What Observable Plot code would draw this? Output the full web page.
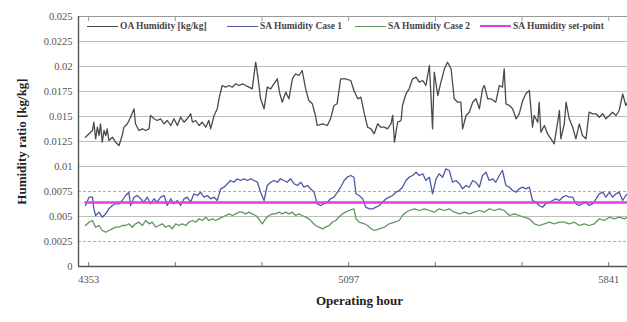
<!DOCTYPE html>
<html>
<head>
<meta charset="utf-8">
<script src="https://cdn.jsdelivr.net/npm/d3@7"></script>
<script src="https://cdn.jsdelivr.net/npm/@observablehq/plot@0.6"></script>
<style>
  html, body { margin: 0; padding: 0; background: #fff; overflow: hidden; width: 627px; height: 322px; }
  #wrap { position: relative; width: 645px; height: 322px; }
  #legend { position: absolute; top: 21px; left: 0; height: 12px; width: 645px;
    font-family: "Liberation Serif", serif; font-weight: bold; font-size: 9.5px; color: #444; }
  #legend .item { position: absolute; top: 0; display: flex; align-items: center; white-space: nowrap; }
  #legend .sw { display: inline-block; width: 31px; height: 0; margin-right: 2px; }
</style>
</head>
<body>
<div id="wrap"><div id="legend"></div></div>
<script>
// ---- data (hour, humidity ratio kg/kg) ----
const seriesNames = ["OA Humidity [kg/kg]", "SA Humidity Case 1", "SA Humidity Case 2", "SA Humidity set-point"];
const seriesColors = ["#4a4a4a", "#4d5aa6", "#5e9660", "#e23ee0"];

const oaHumidity = [
[4344,0.01293],[4354,0.01327],[4364,0.0136],[4368,0.01443],[4373,0.01277],[4378,0.01393],[4383,0.0131],[4387,0.01427],[4392,0.01243],[4397,0.0136],
[4402,0.0131],[4406,0.01377],[4411,0.0126],[4421,0.01293],[4430,0.01243],[4440,0.0121],[4449,0.0131],[4454,0.01393],[4464,0.01427],[4473,0.01493],
[4483,0.01577],[4487,0.01427],[4497,0.0136],[4507,0.01377],[4516,0.0136],[4526,0.01377],[4530,0.0151],[4540,0.01477],[4549,0.0146],[4559,0.01477],
[4569,0.01427],[4578,0.0146],[4588,0.0141],[4597,0.01477],[4607,0.0141],[4616,0.01493],[4626,0.01443],[4635,0.01477],[4645,0.01527],[4650,0.01443],
[4659,0.0146],[4669,0.0141],[4678,0.01443],[4688,0.01393],[4697,0.0146],[4702,0.01377],[4712,0.0151],[4721,0.01577],[4726,0.01677],[4735,0.0181],
[4745,0.01793],[4755,0.0181],[4764,0.01793],[4774,0.01827],[4783,0.0181],[4793,0.01827],[4802,0.0181],[4812,0.01793],[4821,0.01777],[4831,0.02043],
[4838,0.01877],[4845,0.01677],[4855,0.01577],[4864,0.01793],[4874,0.01777],[4883,0.01827],[4893,0.01877],[4899,0.01743],[4907,0.01643],[4917,0.01743],
[4926,0.01677],[4936,0.01877],[4945,0.01927],[4955,0.0191],[4964,0.0196],[4974,0.01777],[4983,0.0166],[4993,0.01627],[5002,0.0151],[5007,0.0141],
[5022,0.01427],[5036,0.0141],[5045,0.01477],[5055,0.0161],[5064,0.01627],[5074,0.01877],[5088,0.01877],[5103,0.0186],[5112,0.0176],
[5123,0.01677],[5132,0.01693],[5142,0.01527],[5151,0.01393],[5161,0.01377],[5170,0.01327],[5180,0.01427],[5189,0.01393],[5199,0.01393],[5208,0.01377],
[5218,0.01427],[5223,0.0151],[5228,0.01243],[5237,0.01443],[5247,0.0146],[5251,0.0161],[5261,0.01727],[5270,0.01777],[5280,0.01877],[5290,0.01893],
[5299,0.01843],[5309,0.0186],[5318,0.0181],[5328,0.0201],[5332,0.01743],[5337,0.01377],[5342,0.01943],[5352,0.0171],[5361,0.01843],[5371,0.01977],
[5380,0.02043],[5390,0.01977],[5399,0.01677],[5409,0.01643],[5418,0.01643],[5423,0.01377],[5433,0.0151],[5442,0.01543],[5452,0.01643],[5461,0.01677],
[5471,0.01577],[5480,0.01777],[5485,0.0181],[5495,0.01677],[5504,0.01677],[5518,0.01643],[5528,0.0181],[5537,0.01793],[5542,0.01977],[5547,0.01627],
[5557,0.0161],[5566,0.01577],[5576,0.01477],[5585,0.01527],[5595,0.0166],[5604,0.01727],[5614,0.0176],[5623,0.01393],[5628,0.0151],[5638,0.01443],
[5642,0.01643],[5647,0.01343],[5657,0.0141],[5666,0.01327],[5676,0.01277],[5685,0.01227],[5695,0.01443],[5700,0.0156],[5704,0.01277],[5714,0.01427],
[5719,0.01643],[5728,0.01477],[5738,0.01393],[5747,0.01277],[5757,0.01427],[5766,0.0131],[5776,0.01277],[5785,0.01543],[5795,0.01527],[5805,0.01527],
[5814,0.01493],[5824,0.01527],[5833,0.01477],[5843,0.0151],[5852,0.01543],[5862,0.0151],[5871,0.0156],[5881,0.01727],[5890,0.0161],[5895,0.01643]
];

const saCase1 = [
[4344,0.0061],[4354,0.00693],[4364,0.00693],[4368,0.00577],[4373,0.0051],[4383,0.00543],[4392,0.00493],[4402,0.00527],[4411,0.00577],[4421,0.0061],
[4430,0.00627],[4440,0.00627],[4449,0.0066],[4459,0.0071],[4468,0.00743],[4473,0.0061],[4483,0.00693],[4492,0.0071],[4502,0.00677],[4511,0.00643],
[4521,0.00693],[4530,0.00627],[4540,0.00677],[4549,0.00643],[4559,0.00693],[4569,0.0071],[4578,0.0061],[4588,0.00677],[4597,0.00627],[4607,0.0066],
[4616,0.0061],[4626,0.00677],[4635,0.00693],[4645,0.00643],[4654,0.00727],[4664,0.0071],[4673,0.00743],[4683,0.00693],[4693,0.0071],[4702,0.00677],
[4712,0.00693],[4721,0.0066],[4731,0.00777],[4740,0.00793],[4750,0.00827],[4759,0.0086],[4769,0.00843],[4778,0.00877],[4788,0.0086],[4797,0.00877],
[4807,0.0086],[4817,0.00877],[4826,0.0086],[4836,0.00843],[4845,0.00743],[4855,0.0066],[4864,0.0081],[4874,0.00843],[4883,0.0086],[4893,0.00843],
[4902,0.00877],[4912,0.0086],[4921,0.00843],[4931,0.00877],[4941,0.00827],[4950,0.0081],[4960,0.00843],[4969,0.00793],[4979,0.0081],[4988,0.00777],
[4998,0.00743],[5007,0.00627],[5017,0.0061],[5026,0.00627],[5036,0.00643],[5045,0.00677],[5055,0.00693],[5065,0.00743],[5074,0.00793],[5084,0.0086],
[5093,0.00893],[5103,0.0091],[5112,0.00893],
[5118,0.00727],[5127,0.0071],[5137,0.00677],[5146,0.00593],[5156,0.00577],[5166,0.00577],[5175,0.00593],[5185,0.0061],[5194,0.00643],[5204,0.00677],
[5213,0.00693],[5223,0.0071],[5232,0.00743],[5242,0.0076],[5251,0.00793],[5261,0.0086],[5270,0.00893],[5280,0.0091],[5290,0.00943],[5299,0.0091],
[5309,0.00927],[5318,0.0086],[5328,0.00893],[5337,0.00727],[5347,0.00877],[5356,0.00927],[5366,0.00893],[5375,0.00977],[5385,0.0096],[5394,0.00843],
[5404,0.0086],[5414,0.00827],[5423,0.00777],[5433,0.0081],[5442,0.00793],[5452,0.0086],[5461,0.00843],[5471,0.00793],[5480,0.0091],[5490,0.00943],
[5499,0.0086],[5509,0.00877],[5518,0.00843],[5528,0.0091],[5537,0.0096],[5547,0.0081],[5557,0.00793],[5566,0.0076],[5576,0.00743],[5585,0.00777],
[5595,0.00793],[5604,0.00777],[5614,0.00793],[5623,0.0066],[5633,0.00643],[5642,0.0061],[5652,0.00593],[5661,0.00627],[5671,0.00643],[5681,0.0066],
[5690,0.00677],[5700,0.0066],[5709,0.00693],[5719,0.0071],[5728,0.00693],[5738,0.00693],[5747,0.00627],[5757,0.0061],[5766,0.00627],[5776,0.00643],
[5785,0.0061],[5795,0.00627],[5805,0.00677],[5814,0.00727],[5824,0.00743],[5833,0.00693],[5843,0.00743],[5852,0.00693],[5862,0.00727],[5871,0.00743],
[5881,0.0066],[5890,0.0071],[5895,0.00727]
];

const saCase2 = [
[4344,0.0041],[4354,0.00443],[4364,0.0046],[4373,0.00393],[4383,0.0041],[4392,0.0036],[4402,0.00343],[4411,0.0036],[4421,0.00377],[4430,0.00393],
[4440,0.00393],[4449,0.0041],[4459,0.0041],[4468,0.00427],[4478,0.00393],[4487,0.00427],[4497,0.00443],[4507,0.0041],[4516,0.0046],[4526,0.00427],
[4535,0.00443],[4545,0.00393],[4554,0.0041],[4564,0.00427],[4573,0.00393],[4583,0.0041],[4592,0.00377],[4602,0.00427],[4611,0.0041],[4621,0.00427],
[4631,0.0041],[4640,0.00443],[4650,0.0046],[4659,0.00443],[4669,0.00477],[4678,0.0046],[4688,0.00493],[4697,0.0046],[4707,0.00477],[4716,0.0046],
[4726,0.00477],[4735,0.00493],[4745,0.0051],[4755,0.00527],[4764,0.0051],[4774,0.00527],[4783,0.00543],[4793,0.00543],[4802,0.00527],[4812,0.00543],
[4821,0.00527],[4831,0.0051],[4840,0.00477],[4850,0.00427],[4859,0.00477],[4869,0.0051],[4879,0.00527],[4888,0.00527],[4898,0.00543],[4907,0.00527],
[4917,0.00543],[4926,0.00527],[4936,0.00543],[4945,0.0051],[4955,0.00527],[4964,0.0051],[4974,0.00493],[4983,0.00477],[4993,0.00443],[5002,0.0041],
[5012,0.00393],[5022,0.00377],[5031,0.00393],[5041,0.0041],[5050,0.00443],[5060,0.0046],[5069,0.00493],[5079,0.00527],[5088,0.00543],[5098,0.0056],
[5112,0.00577],
[5118,0.00477],[5127,0.00443],[5142,0.00427],[5151,0.0041],[5161,0.00377],[5170,0.0036],[5185,0.00377],[5199,0.00393],[5213,0.00427],[5228,0.00443],
[5242,0.0046],[5251,0.0051],[5261,0.00543],[5270,0.0056],[5285,0.00577],[5299,0.0056],[5313,0.00577],[5328,0.0056],[5342,0.00543],[5356,0.00577],
[5371,0.0056],[5385,0.00577],[5399,0.00543],[5414,0.00527],[5428,0.00543],[5442,0.00527],[5456,0.00543],[5471,0.0056],[5485,0.00543],[5499,0.00577],
[5514,0.0056],[5528,0.00577],[5542,0.0056],[5557,0.0051],[5571,0.00527],[5585,0.0051],[5599,0.00493],[5614,0.00477],[5628,0.00427],[5642,0.0041],
[5657,0.00427],[5671,0.00443],[5685,0.00427],[5700,0.00443],[5714,0.00443],[5728,0.00427],[5743,0.00443],[5757,0.0041],[5771,0.00427],[5785,0.0041],
[5800,0.00427],[5814,0.00477],[5828,0.0046],[5843,0.00493],[5857,0.00477],[5871,0.00493],[5886,0.00477],[5895,0.00493]
];

const setpointValue = 0.0064;
const setpointHours = [4344, 5895];

const xDomain = [4324, 5932];
const xTicks = [4353, 4601, 4849, 5097, 5345, 5593, 5841];
const xTickLabels = [4353, 5097, 5841];
const yTicks = [0, 0.0025, 0.005, 0.0075, 0.01, 0.0125, 0.015, 0.0175, 0.02, 0.0225, 0.025];
const yDashed = [0.0025, 0.0075];

// ---- chart ----
const setpointLine = setpointHours.map(h => [h, setpointValue]);
const solidGrid = yTicks.filter(v => v > 0 && !yDashed.includes(v));

const chart = Plot.plot({
  width: 645,
  height: 322,
  marginTop: 16,
  marginBottom: 56,
  marginLeft: 78,
  marginRight: 5,
  style: { fontFamily: "'Liberation Serif', serif", fontSize: "10.5px", color: "#555", background: "#fff", overflow: "hidden" },
  x: { domain: xDomain },
  y: { domain: [0, 0.025] },
  marks: [
    Plot.ruleY(solidGrid, { stroke: "#bdbdbd", strokeWidth: 1 }),
    Plot.ruleY(yDashed, { stroke: "#a9a9c0", strokeWidth: 1, strokeDasharray: "3,2" }),
    Plot.line(oaHumidity, { x: d => d[0], y: d => d[1], stroke: seriesColors[0], strokeWidth: 1.3 }),
    Plot.line(saCase1, { x: d => d[0], y: d => d[1], stroke: seriesColors[1], strokeWidth: 1.3 }),
    Plot.line(setpointLine, { x: d => d[0], y: d => d[1], stroke: seriesColors[3], strokeWidth: 2.4 }),
    Plot.line(saCase2, { x: d => d[0], y: d => d[1], stroke: seriesColors[2], strokeWidth: 1.3 }),
    Plot.ruleY([0.025], { stroke: "#999", strokeWidth: 1.2 }),
    Plot.ruleY([0], { stroke: "#555", strokeWidth: 1.4 }),
    Plot.ruleX([xDomain[0]], { stroke: "#555", strokeWidth: 1.4 }),
    Plot.axisX({ ticks: xTicks, tickSize: -4, text: null, stroke: "#777", label: null }),
    Plot.axisX({ anchor: "top", ticks: xTicks, tickSize: -4, text: null, stroke: "#999", label: null }),
    Plot.axisX({ ticks: xTickLabels, tickSize: 0, tickPadding: 9, tickFormat: d => String(d),
      label: "Operating hour", labelAnchor: "center", labelArrow: "none", labelOffset: 38, fill: "#555" }),
    Plot.axisY({ ticks: yTicks, tickSize: 0, tickPadding: 6,
      tickFormat: d => d === 0 ? "0" : String(+d.toFixed(4)),
      label: "Humidity ratio [kg/kg]", labelAnchor: "center", labelArrow: "none", labelOffset: 62, fill: "#555" })
  ]
});

// bold axis titles, no arrows
chart.querySelectorAll("g[aria-label='x-axis label'] text, g[aria-label='y-axis label'] text").forEach(t => {
  t.setAttribute("font-weight", "bold");
  t.setAttribute("font-size", "13px");
  t.setAttribute("fill", "#222");
  t.textContent = t.textContent.replace(/\s*[↑→←↓]\s*/g, "").trim();
});

document.getElementById("wrap").appendChild(chart);

// legend (layout only)
const legendLeft = [87, 227, 355, 480];
const legend = document.getElementById("legend");
seriesNames.forEach((name, i) => {
  const item = document.createElement("div");
  item.className = "item";
  item.style.left = legendLeft[i] + "px";
  const sw = document.createElement("span");
  sw.className = "sw";
  sw.style.borderTop = (i === 3 ? 2 : 1.2) + "px solid " + seriesColors[i];
  item.appendChild(sw);
  item.appendChild(document.createTextNode(name));
  legend.appendChild(item);
});
</script>
</body>
</html>
